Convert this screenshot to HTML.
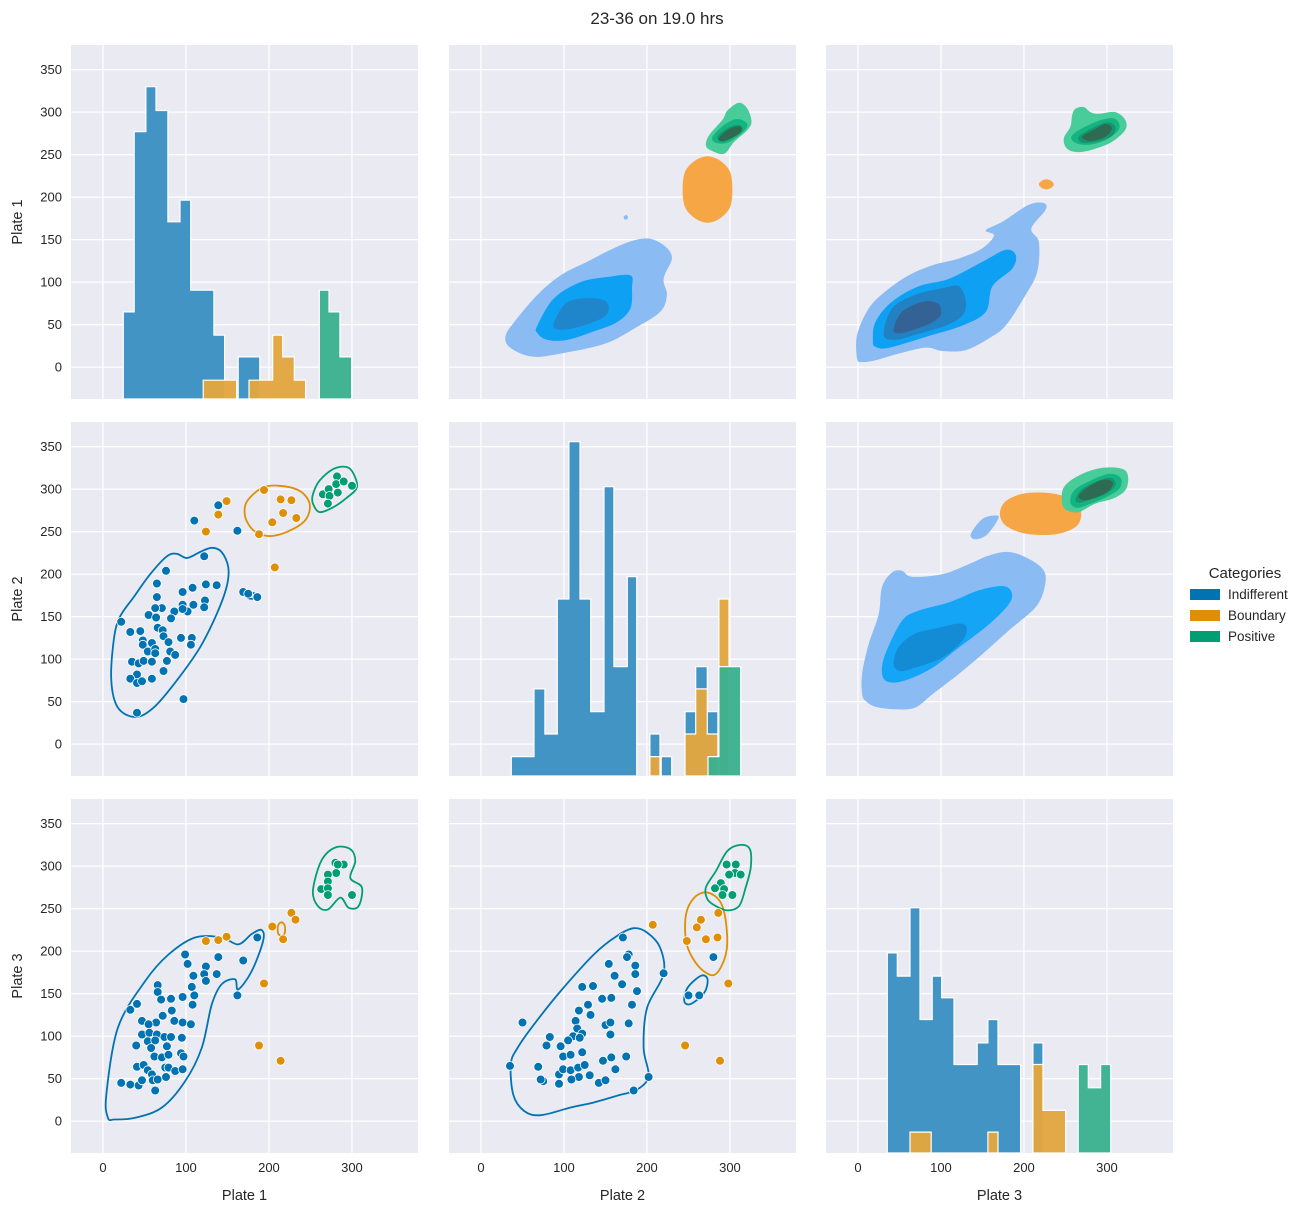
<!DOCTYPE html>
<html><head><meta charset="utf-8">
<style>
html,body{margin:0;padding:0;background:#fff;}
svg{display:block;font-family:"Liberation Sans","DejaVu Sans",sans-serif;}
</style></head>
<body>
<svg id="chart" width="1314" height="1211" viewBox="0 0 1314 1211" xmlns="http://www.w3.org/2000/svg">
<text x="657" y="24" text-anchor="middle" font-size="17" fill="#262626">23-36 on 19.0 hrs</text>
<g id="panels"></g>
<g>
<text x="1245" y="578" text-anchor="middle" font-size="15" fill="#262626">Categories</text>
<g><rect x="1190" y="589" width="30" height="11" fill="#0173b2"/><text x="1228" y="599" font-size="13.5" fill="#262626">Indifferent</text></g>
<g><rect x="1190" y="610" width="30" height="11" fill="#de8f05"/><text x="1228" y="620" font-size="13.5" fill="#262626">Boundary</text></g>
<g><rect x="1190" y="631" width="30" height="11" fill="#029e73"/><text x="1228" y="641" font-size="13.5" fill="#262626">Positive</text></g>
</g>
</svg>
<script>
// ---------- data ----------
const categories = ["Indifferent","Boundary","Positive"];
const axisTicks = [0,50,100,150,200,250,300,350];
const xTicks = [0,100,200,300];
const xTickLabels = ["0","100","200","300"];
const variables = ["Plate 1","Plate 2","Plate 3"];

// histogram bins [lo, hi, top]
const hist1Indifferent = [[24.5,37.7,65],[37.7,51.8,277],[51.8,63.9,330],[63.9,78.3,302],[78.3,92.8,171],[92.8,105.7,196.5],[105.7,133.7,90.6],[133.7,146.6,37.6],[163,189,12.1]];
const hist1Boundary = [[120.8,161,-15.3],[176,204.5,-15.3],[204.5,216.6,37.6],[216.6,230.5,12.1],[230.5,244.2,-15.3]];
const hist1Positive = [[260.6,272.3,90.6],[272.3,285.5,65],[285.5,299.6,12.1]];
const hist2Indifferent = [[36.5,63.9,-14.7],[63.9,77.1,65],[77.1,92,12],[92,106,170.8],[106,119.3,355.9],[119.3,132.2,170.8],[132.2,148.2,38.2],[148.2,160.2,302.9],[160.2,176.3,91.2],[176.3,187.6,197],[203.6,215.7,12],[217.2,229.8,-14.7],[245.8,258.7,38.2],[258.7,272.7,91.2],[272.7,285.5,38.2]];
const hist2Boundary = [[203.6,215.7,-14.7],[245.8,258.7,12],[258.7,272.7,65],[272.7,285.5,12],[286.7,298.8,170.8]];
const hist2Positive = [[273.5,286.7,-14.7],[286.7,312.9,91.2]];
const hist3Indifferent = [[35.3,47.4,198],[47.4,62.7,170.6],[62.7,74.7,251],[74.7,89.5,119.6],[89.5,100.8,170.6],[100.8,115.7,145.1],[115.7,143.7,66.7],[143.7,156.6,92.1],[156.6,168.7,119.6],[168.7,196,66.7],[210.8,222.9,92.1]];
const hist3Boundary = [[62.7,88.3,-12.9],[156.6,168.7,-12.9],[210.8,222.9,66.7],[222.9,250.2,12.6]];
const hist3Positive = [[265.4,277.5,66.7],[277.5,292.4,39.2],[292.4,304.5,66.7]];

// scatter: Plate1 (x) vs Plate2 (y)
const s21Indifferent = [[139,281],[110,263],[162,251],[122,221],[76,204],[65,189],[65,173],[96,179],[108,184],[124,188],[137,187],[96,164],[109,164],[123,169],[122,161],[102,156],[96,159],[86,156],[71,160],[63,160],[55,152],[64,149],[82,148],[22,144],[33,132],[45,133],[66,137],[72,134],[73,127],[48,122],[48,117],[59,119],[79,120],[94,125],[107,125],[106,117],[54,109],[63,112],[63,107],[81,109],[87,105],[35,97],[43,95],[49,98],[59,97],[77,98],[73,86],[41,82],[33,77],[41,72],[47,74],[59,77],[97,53],[41,37],[169,179],[186,173],[175,177]];
const s21Boundary = [[149,286],[139,270],[124,250],[194,299],[214,288],[227,287],[217,272],[204,261],[233,266],[188,247],[207,208]];
const s21Positive = [[282,315],[281,306],[290,309],[300,304],[265,294],[272,300],[273,292],[283,296],[271,283]];
// Plate1 (x) vs Plate3 (y)
const s31Indifferent = [[99,196],[102,185],[139,193],[169,189],[186,216],[109,171],[124,182],[122,173],[124,165],[137,173],[107,158],[110,148],[108,137],[96,146],[66,160],[66,152],[70,143],[82,144],[162,148],[41,138],[33,131],[83,130],[72,124],[47,118],[64,116],[55,114],[86,118],[96,116],[106,114],[47,102],[56,104],[65,102],[74,99],[82,99],[95,98],[40,89],[54,94],[63,95],[58,86],[77,88],[62,76],[71,75],[79,78],[94,80],[97,76],[41,64],[49,66],[54,60],[59,55],[75,63],[79,63],[87,59],[96,61],[22,45],[33,43],[43,42],[47,48],[60,48],[66,49],[76,52],[63,36]];
const s31Boundary = [[124,212],[139,213],[149,217],[204,229],[227,245],[232,237],[217,214],[194,162],[188,89],[214,71]];
const s31Positive = [[280,304],[290,302],[281,292],[271,290],[271,282],[263,273],[271,274],[271,266],[300,266],[283,302]];
// Plate2 (x) vs Plate3 (y)
const s32Indifferent = [[171,216],[178,196],[176,193],[186,183],[186,173],[154,185],[161,171],[170,161],[188,153],[220,174],[122,158],[135,159],[146,144],[157,145],[182,137],[129,137],[118,130],[132,125],[150,113],[156,116],[178,115],[114,118],[116,109],[122,103],[111,100],[105,95],[96,88],[119,98],[156,102],[122,81],[99,76],[108,78],[147,71],[157,75],[175,76],[162,61],[50,116],[83,99],[79,89],[69,64],[94,55],[99,61],[108,60],[117,63],[125,66],[118,52],[109,49],[131,54],[94,44],[75,47],[72,49],[142,45],[150,48],[202,52],[184,36],[35,65],[280,193],[250,148],[263,148]];
const s32Boundary = [[207,231],[265,237],[260,228],[248,212],[271,214],[285,216],[286,245],[298,162],[246,89],[288,71]];
const s32Positive = [[296,302],[307,302],[306,292],[313,290],[299,290],[289,280],[282,274],[293,273],[291,266],[303,266]];

// KDE contour outlines (data units)
const c21Blue = [[13,122],[10,75],[18,43],[39,32],[61,43],[89,75],[117,114],[137,153],[149,185],[151,208],[143,226],[131,231],[117,226],[101,219],[89,224],[77,221],[57,200],[37,173],[20,149]];
const c21BlueSmall = [[174,175],[178,178],[183,177],[184,173],[180,171],[175,172]];
const c21Orange = [[171,279],[177,290],[193,302],[213,304],[237,298],[249,283],[245,265],[229,253],[205,245],[185,249],[173,263]];
const c21Green = [[253,294],[261,310],[278,324],[294,326],[302,318],[306,302],[294,290],[278,279],[261,273],[253,283]];
const c31Blue = [[6,4],[4,31],[18,110],[51,165],[79,196],[111,216],[143,216],[163,208],[179,220],[191,225],[193,212],[179,176],[163,155],[159,167],[143,161],[131,137],[119,86],[99,47],[71,16],[39,4],[14,2]];
const c31OrangeSmall = [[211,221],[211,230],[215,234],[219,230],[219,221],[215,218]];
const c31Green = [[253,271],[263,306],[280,322],[298,320],[304,306],[298,286],[312,275],[308,253],[296,251],[286,263],[271,249],[259,253]];
const c32Blue = [[36,67],[39,31],[52,12],[72,7],[108,16],[136,22],[168,31],[188,37],[202,53],[196,86],[200,133],[220,173],[216,204],[200,222],[184,227],[164,218],[136,196],[96,153],[64,114],[44,86]];
const c32BlueSmall = [[245,141],[249,157],[265,171],[273,167],[269,151],[253,138]];
const c32Orange = [[247,212],[247,243],[257,263],[273,269],[289,257],[296,227],[295,196],[283,173],[269,176],[255,192]];
const c32Green = [[273,261],[271,275],[283,294],[297,318],[313,325],[324,320],[325,298],[319,275],[311,253],[297,248],[283,253]];

// filled KDE (upper triangle) levels
const f12Levels = [
 ["#8abbf3",[[30,38],[40,53],[68,85],[96,108],[128,124],[160,140],[184,149],[204,151],[222,142],[230,128],[220,104],[224,85],[216,65],[184,45],[156,30],[128,22],[96,16],[68,12],[48,16],[32,26]]],
 ["#8abbf3",[[172,177],[175,179],[177,177],[176,174],[173,174]]],
 ["#0ea1f3",[[68,49],[88,81],[120,100],[152,106],[180,108],[182,93],[180,69],[164,53],[136,42],[104,32],[80,32],[68,40]]],
 ["#1f86cc",[[88,53],[102,75],[124,81],[148,79],[154,69],[148,59],[124,49],[100,44],[89,46]]],
 ["#f6a645",[[273,248],[288,243],[300,230],[303,209],[300,188],[288,175],[273,170],[258,175],[246,188],[243,209],[246,230],[258,243]]],
 ["#48cc9a",[[271,261],[275,273],[291,291],[297,302],[311,311],[321,304],[326,289],[321,279],[305,265],[293,251],[277,255]]],
 ["#14b482",[[279,271],[293,285],[309,292],[321,286],[315,276],[297,264],[283,264]]],
 ["#16946d",[[285,271],[297,281],[311,285],[315,278],[305,271],[291,265]]],
 ["#2f6a52",[[287,270],[301,281],[313,283],[312,276],[299,268],[289,266]]]
];
const f13Levels = [
 ["#8abbf3",[[-1,10],[-1,38],[13,69],[33,89],[61,108],[90,120],[122,128],[150,140],[164,155],[154,161],[174,171],[206,191],[224,193],[226,185],[209,163],[218,147],[216,112],[202,85],[178,49],[158,34],[130,20],[102,19],[82,23],[49,16],[21,8],[5,6]]],
 ["#0ea1f3",[[18,30],[21,53],[41,77],[73,95],[110,104],[150,124],[178,138],[190,132],[186,116],[162,95],[154,65],[126,49],[90,38],[57,28],[33,22],[21,24]]],
 ["#2181c3",[[31,38],[41,69],[69,85],[102,93],[122,95],[130,77],[126,61],[106,49],[69,38],[45,32]]],
 ["#356294",[[43,45],[53,65],[78,77],[96,75],[100,63],[90,53],[61,42],[47,40]]],
 ["#f6a645",[[218,215],[221,219],[227,221],[233,219],[236,215],[233,211],[227,209],[221,211]]],
 ["#48cc9a",[[248,269],[256,283],[258,296],[262,304],[272,306],[280,300],[290,298],[310,300],[322,291],[322,279],[306,265],[286,257],[266,253],[252,257]]],
 ["#14b482",[[257,271],[270,281],[294,291],[310,292],[315,281],[302,269],[282,262],[264,263]]],
 ["#16946d",[[266,271],[282,281],[300,288],[310,283],[306,272],[286,265],[270,264]]],
 ["#2f6a52",[[270,271],[284,279],[298,286],[306,281],[298,271],[280,266]]]
];
const f23Levels = [
 ["#8abbf3",[[5,59],[5,83],[13,118],[25,153],[29,185],[41,202],[53,204],[65,197],[102,200],[134,212],[158,222],[182,226],[206,218],[224,204],[225,185],[214,161],[182,134],[150,106],[122,83],[90,59],[69,43],[45,41],[21,44],[9,51]]],
 ["#8abbf3",[[136,247],[150,265],[166,269],[169,265],[156,247],[142,241]]],
 ["#14a5f7",[[29,83],[33,106],[53,145],[73,157],[110,167],[146,181],[174,186],[185,179],[182,165],[158,141],[122,114],[90,90],[57,75],[37,73]]],
 ["#148bd5",[[43,94],[49,114],[69,130],[98,137],[122,142],[131,137],[126,122],[102,102],[69,90],[51,86]]],
 ["#f6a645",[[171,271],[177,285],[196,294],[220,296],[244,293],[264,283],[269,271],[264,257],[244,248],[220,246],[196,249],[177,258]]],
 ["#48cc9a",[[246,283],[248,302],[266,316],[294,325],[322,322],[324,302],[310,290],[286,283],[266,273],[252,275]]],
 ["#14b482",[[256,284],[260,298],[278,309],[302,318],[316,314],[316,302],[302,292],[278,282],[264,278]]],
 ["#16946d",[[262,288],[270,300],[290,310],[306,313],[310,304],[298,294],[278,287],[266,284]]],
 ["#2f6a52",[[266,292],[278,303],[296,311],[307,308],[302,298],[286,290],[272,287]]]
];

// ---------- layout ----------
const NS = "http://www.w3.org/2000/svg";
const colX = [71,449,826], rowY = [45,422,799], PW = 347, PH = 354;
const xMin = -38.5, yMax = 379, kx = 0.83, ky = 0.85;
const hueColor = ["#0173b2","#de8f05","#029e73"];
const histColor = ["#3b91c2","#e1a640","#3cb190"];
function sx(c, v){ return colX[c] + (v - xMin) * kx; }
function sy(r, v){ return rowY[r] + (yMax - v) * ky; }
function mk(tag, attrs, parent){ const e=document.createElementNS(NS,tag); for(const k in attrs) e.setAttribute(k, attrs[k]); parent.appendChild(e); return e; }
const root = document.getElementById("panels");

// closed Catmull-Rom smoothing
function smoothPath(c, r, pts){
  const P = pts.map(p=>[sx(c,p[0]), sy(r,p[1])]);
  const n = P.length;
  let d = "M"+P[0][0].toFixed(1)+","+P[0][1].toFixed(1);
  for(let i=0;i<n;i++){
    const p0=P[(i-1+n)%n], p1=P[i], p2=P[(i+1)%n], p3=P[(i+2)%n];
    const c1=[p1[0]+(p2[0]-p0[0])/6, p1[1]+(p2[1]-p0[1])/6];
    const c2=[p2[0]-(p3[0]-p1[0])/6, p2[1]-(p3[1]-p1[1])/6];
    d += "C"+c1[0].toFixed(1)+","+c1[1].toFixed(1)+" "+c2[0].toFixed(1)+","+c2[1].toFixed(1)+" "+p2[0].toFixed(1)+","+p2[1].toFixed(1);
  }
  return d+"Z";
}

for(let r=0;r<3;r++){
  for(let c=0;c<3;c++){
    const g = mk("g",{},root);
    
    
    const clipId = "clip"+r+c;
    const cp = mk("clipPath",{id:clipId},g);
    mk("rect",{x:colX[c],y:rowY[r],width:PW,height:PH},cp);
    const bg = mk("rect",{x:colX[c],y:rowY[r],width:PW,height:PH,fill:"#eaeaf2"},g);
    
    
    axisTicks.forEach(t=>{
      const ln = mk("line",{x1:colX[c],x2:colX[c]+PW,y1:sy(r,t),y2:sy(r,t),stroke:"#fff","stroke-width":1.3},g);
      
      
    });
    xTicks.forEach(t=>{
      const ln = mk("line",{x1:sx(c,t),x2:sx(c,t),y1:rowY[r],y2:rowY[r]+PH,stroke:"#fff","stroke-width":1.3},g);
      
      
    });
    const content = mk("g",{"clip-path":"url(#"+clipId+")"},g);
    
    

    if(r===c){
      const hs = [[hist1Indifferent,hist1Boundary,hist1Positive],[hist2Indifferent,hist2Boundary,hist2Positive],[hist3Indifferent,hist3Boundary,hist3Positive]][r];
      const bottom = rowY[r]+PH;
      hs.forEach((bins,h)=>{
        const groups=[]; let cur=null;
        bins.forEach(b=>{ if(cur && Math.abs(cur[cur.length-1][1]-b[0])<0.5) cur.push(b); else { cur=[b]; groups.push(cur);} });
        groups.forEach(gr=>{
          let d="M"+sx(c,gr[0][0]).toFixed(1)+","+bottom;
          gr.forEach(b=>{ d+="L"+sx(c,b[0]).toFixed(1)+","+sy(r,b[2]).toFixed(1)+"L"+sx(c,b[1]).toFixed(1)+","+sy(r,b[2]).toFixed(1); });
          d+="L"+sx(c,gr[gr.length-1][1]).toFixed(1)+","+bottom+"Z";
          const p = mk("path",{d:d,fill:histColor[h],"fill-opacity":0.97,stroke:"#fff","stroke-width":1.2},content);
          
          
        });
      });
    } else if(r<c){
      const lv = (r===0&&c===1)?f12Levels:(r===0&&c===2)?f13Levels:f23Levels;
      lv.forEach(l=>{
        const p = mk("path",{d:smoothPath(c,r,l[1]),fill:l[0]},content);
        
        
      });
    } else {
      let conts, pts;
      if(r===1&&c===0){ conts=[[c21Blue,0],[c21BlueSmall,0],[c21Orange,1],[c21Green,2]]; pts=[s21Indifferent,s21Boundary,s21Positive]; }
      else if(r===2&&c===0){ conts=[[c31Blue,0],[c31OrangeSmall,1],[c31Green,2]]; pts=[s31Indifferent,s31Boundary,s31Positive]; }
      else { conts=[[c32Blue,0],[c32BlueSmall,0],[c32Orange,1],[c32Green,2]]; pts=[s32Indifferent,s32Boundary,s32Positive]; }
      conts.forEach(ct=>{
        const p = mk("path",{d:smoothPath(c,r,ct[0]),fill:"none",stroke:hueColor[ct[1]],"stroke-width":1.8,"stroke-linejoin":"round"},content);
        
        
      });
      pts.forEach((arr,h)=>{
        arr.forEach(pt=>{
          const ci = mk("circle",{cx:sx(c,pt[0]).toFixed(1),cy:sy(r,pt[1]).toFixed(1),r:4.4,fill:hueColor[h],stroke:"#fff","stroke-width":0.8},content);
          
          
        });
      });
    }
    if(c===0){
      axisTicks.forEach(t=>{
        const tx = mk("text",{x:colX[0]-9,y:sy(r,t)+4.5,"text-anchor":"end","font-size":13,fill:"#262626"},root);
        tx.textContent = String(t);
        
        
      });
      const cy = rowY[r]+PH/2;
      const yl = mk("text",{x:22,y:cy,"text-anchor":"middle","font-size":14.5,fill:"#262626",transform:"rotate(-90 22 "+cy+")"},root);
      yl.textContent = variables[r];
      
      
    }
    if(r===2){
      xTicks.forEach((t,i)=>{
        const tx = mk("text",{x:sx(c,t),y:rowY[2]+PH+19,"text-anchor":"middle","font-size":13,fill:"#262626"},root);
        tx.textContent = xTickLabels[i];
        
        
      });
      const xl = mk("text",{x:colX[c]+PW/2,y:rowY[2]+PH+47,"text-anchor":"middle","font-size":14.5,fill:"#262626"},root);
      xl.textContent = variables[c];
      
      
    }
  }
}
</script>
</body></html>
